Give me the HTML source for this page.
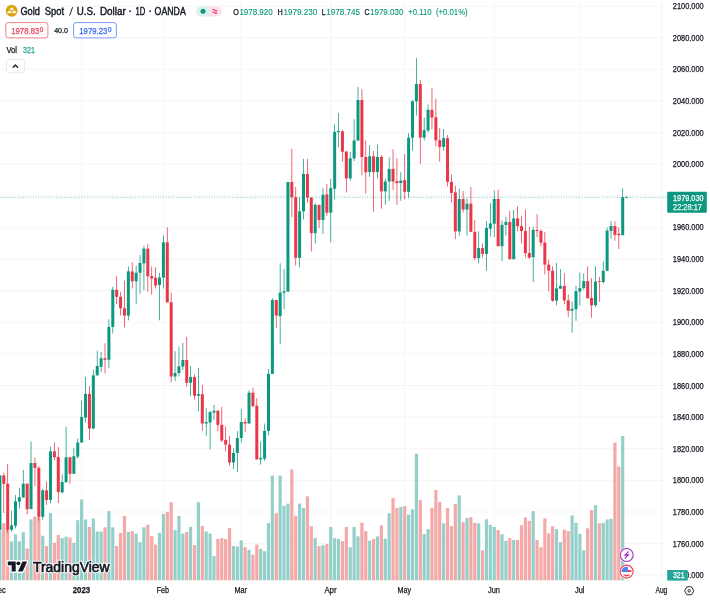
<!DOCTYPE html>
<html><head><meta charset="utf-8"><title>Gold Spot / U.S. Dollar</title>
<style>html,body{margin:0;padding:0;background:#fff;width:710px;height:600px;overflow:hidden;font-family:"Liberation Sans",sans-serif}</style>
</head><body>
<svg width="710" height="600" viewBox="0 0 710 600" style="position:absolute;left:0;top:0;display:block;will-change:transform;transform:translateZ(0)">
<g stroke="#EFEFF1" stroke-width="0.6" shape-rendering="auto">
<line x1="0" y1="6.10" x2="667" y2="6.10"/>
<line x1="0" y1="37.72" x2="667" y2="37.72"/>
<line x1="0" y1="69.34" x2="667" y2="69.34"/>
<line x1="0" y1="100.95" x2="667" y2="100.95"/>
<line x1="0" y1="132.57" x2="667" y2="132.57"/>
<line x1="0" y1="164.19" x2="667" y2="164.19"/>
<line x1="0" y1="195.81" x2="667" y2="195.81"/>
<line x1="0" y1="227.43" x2="667" y2="227.43"/>
<line x1="0" y1="259.04" x2="667" y2="259.04"/>
<line x1="0" y1="290.66" x2="667" y2="290.66"/>
<line x1="0" y1="322.28" x2="667" y2="322.28"/>
<line x1="0" y1="353.90" x2="667" y2="353.90"/>
<line x1="0" y1="385.52" x2="667" y2="385.52"/>
<line x1="0" y1="417.13" x2="667" y2="417.13"/>
<line x1="0" y1="448.75" x2="667" y2="448.75"/>
<line x1="0" y1="480.37" x2="667" y2="480.37"/>
<line x1="0" y1="511.99" x2="667" y2="511.99"/>
<line x1="0" y1="543.61" x2="667" y2="543.61"/>
<line x1="0" y1="575.22" x2="667" y2="575.22"/>
<line x1="81.7" y1="0" x2="81.7" y2="580.6"/>
<line x1="163.4" y1="0" x2="163.4" y2="580.6"/>
<line x1="241.2" y1="0" x2="241.2" y2="580.6"/>
<line x1="330.8" y1="0" x2="330.8" y2="580.6"/>
<line x1="404.7" y1="0" x2="404.7" y2="580.6"/>
<line x1="494.4" y1="0" x2="494.4" y2="580.6"/>
<line x1="579.4" y1="0" x2="579.4" y2="580.6"/>
<line x1="661.8" y1="0" x2="661.8" y2="580.6"/>
</g>
<clipPath id="pane"><rect x="0" y="0" width="662.0" height="580.6"/></clipPath>
<g clip-path="url(#pane)">
<rect x="-1.70" y="531.0" width="3.2" height="49.6" fill="#94D0C9"/>
<rect x="2.19" y="523.1" width="3.2" height="57.5" fill="#F4A8A7"/>
<rect x="6.09" y="527.0" width="3.2" height="53.6" fill="#F4A8A7"/>
<rect x="9.98" y="541.4" width="3.2" height="39.2" fill="#94D0C9"/>
<rect x="13.87" y="534.3" width="3.2" height="46.3" fill="#94D0C9"/>
<rect x="17.76" y="541.4" width="3.2" height="39.2" fill="#94D0C9"/>
<rect x="21.65" y="532.2" width="3.2" height="48.4" fill="#94D0C9"/>
<rect x="25.55" y="548.4" width="3.2" height="32.2" fill="#F4A8A7"/>
<rect x="29.44" y="519.4" width="3.2" height="61.2" fill="#94D0C9"/>
<rect x="33.33" y="516.6" width="3.2" height="64.0" fill="#F4A8A7"/>
<rect x="37.22" y="517.4" width="3.2" height="63.2" fill="#F4A8A7"/>
<rect x="41.12" y="535.7" width="3.2" height="44.9" fill="#94D0C9"/>
<rect x="45.01" y="546.0" width="3.2" height="34.6" fill="#F4A8A7"/>
<rect x="48.90" y="513.1" width="3.2" height="67.5" fill="#94D0C9"/>
<rect x="52.80" y="542.8" width="3.2" height="37.8" fill="#F4A8A7"/>
<rect x="56.69" y="535.0" width="3.2" height="45.6" fill="#F4A8A7"/>
<rect x="60.58" y="538.1" width="3.2" height="42.5" fill="#94D0C9"/>
<rect x="64.47" y="536.7" width="3.2" height="43.9" fill="#94D0C9"/>
<rect x="68.37" y="537.6" width="3.2" height="43.0" fill="#F4A8A7"/>
<rect x="72.26" y="542.8" width="3.2" height="37.8" fill="#94D0C9"/>
<rect x="76.15" y="520.2" width="3.2" height="60.4" fill="#94D0C9"/>
<rect x="80.04" y="499.5" width="3.2" height="81.1" fill="#94D0C9"/>
<rect x="83.94" y="519.5" width="3.2" height="61.1" fill="#94D0C9"/>
<rect x="87.83" y="527.0" width="3.2" height="53.6" fill="#F4A8A7"/>
<rect x="91.72" y="518.5" width="3.2" height="62.1" fill="#94D0C9"/>
<rect x="95.61" y="531.5" width="3.2" height="49.1" fill="#94D0C9"/>
<rect x="99.51" y="531.5" width="3.2" height="49.1" fill="#94D0C9"/>
<rect x="103.40" y="527.3" width="3.2" height="53.3" fill="#F4A8A7"/>
<rect x="107.29" y="511.1" width="3.2" height="69.5" fill="#94D0C9"/>
<rect x="111.18" y="527.3" width="3.2" height="53.3" fill="#94D0C9"/>
<rect x="115.08" y="546.0" width="3.2" height="34.6" fill="#F4A8A7"/>
<rect x="118.97" y="532.9" width="3.2" height="47.7" fill="#F4A8A7"/>
<rect x="122.86" y="516.0" width="3.2" height="64.6" fill="#F4A8A7"/>
<rect x="126.75" y="531.9" width="3.2" height="48.7" fill="#94D0C9"/>
<rect x="130.65" y="531.2" width="3.2" height="49.4" fill="#F4A8A7"/>
<rect x="134.54" y="533.6" width="3.2" height="47.0" fill="#94D0C9"/>
<rect x="138.43" y="542.1" width="3.2" height="38.5" fill="#94D0C9"/>
<rect x="142.32" y="527.3" width="3.2" height="53.3" fill="#94D0C9"/>
<rect x="146.22" y="524.7" width="3.2" height="55.9" fill="#F4A8A7"/>
<rect x="150.11" y="536.2" width="3.2" height="44.4" fill="#F4A8A7"/>
<rect x="154.00" y="544.6" width="3.2" height="36.0" fill="#F4A8A7"/>
<rect x="157.89" y="532.9" width="3.2" height="47.7" fill="#94D0C9"/>
<rect x="161.79" y="513.9" width="3.2" height="66.7" fill="#94D0C9"/>
<rect x="165.68" y="511.8" width="3.2" height="68.8" fill="#F4A8A7"/>
<rect x="169.57" y="502.2" width="3.2" height="78.4" fill="#F4A8A7"/>
<rect x="173.46" y="530.1" width="3.2" height="50.5" fill="#94D0C9"/>
<rect x="177.36" y="516.0" width="3.2" height="64.6" fill="#94D0C9"/>
<rect x="181.25" y="533.6" width="3.2" height="47.0" fill="#94D0C9"/>
<rect x="185.14" y="531.9" width="3.2" height="48.7" fill="#F4A8A7"/>
<rect x="189.03" y="526.9" width="3.2" height="53.7" fill="#94D0C9"/>
<rect x="192.93" y="545.2" width="3.2" height="35.4" fill="#F4A8A7"/>
<rect x="196.82" y="502.2" width="3.2" height="78.4" fill="#94D0C9"/>
<rect x="200.71" y="525.9" width="3.2" height="54.7" fill="#F4A8A7"/>
<rect x="204.60" y="531.5" width="3.2" height="49.1" fill="#94D0C9"/>
<rect x="208.50" y="533.6" width="3.2" height="47.0" fill="#94D0C9"/>
<rect x="212.39" y="556.2" width="3.2" height="24.4" fill="#94D0C9"/>
<rect x="216.28" y="539.0" width="3.2" height="41.6" fill="#F4A8A7"/>
<rect x="220.17" y="538.1" width="3.2" height="42.5" fill="#F4A8A7"/>
<rect x="224.07" y="539.0" width="3.2" height="41.6" fill="#F4A8A7"/>
<rect x="227.96" y="528.0" width="3.2" height="52.6" fill="#F4A8A7"/>
<rect x="231.85" y="546.0" width="3.2" height="34.6" fill="#94D0C9"/>
<rect x="235.74" y="546.6" width="3.2" height="34.0" fill="#94D0C9"/>
<rect x="239.64" y="540.4" width="3.2" height="40.2" fill="#94D0C9"/>
<rect x="243.53" y="547.0" width="3.2" height="33.6" fill="#F4A8A7"/>
<rect x="247.42" y="549.8" width="3.2" height="30.8" fill="#94D0C9"/>
<rect x="251.31" y="554.7" width="3.2" height="25.9" fill="#F4A8A7"/>
<rect x="255.21" y="544.6" width="3.2" height="36.0" fill="#F4A8A7"/>
<rect x="259.10" y="548.8" width="3.2" height="31.8" fill="#94D0C9"/>
<rect x="262.99" y="551.2" width="3.2" height="29.4" fill="#94D0C9"/>
<rect x="266.88" y="523.1" width="3.2" height="57.5" fill="#94D0C9"/>
<rect x="270.77" y="475.6" width="3.2" height="105.0" fill="#94D0C9"/>
<rect x="274.67" y="513.2" width="3.2" height="67.4" fill="#F4A8A7"/>
<rect x="278.56" y="475.6" width="3.2" height="105.0" fill="#94D0C9"/>
<rect x="282.45" y="505.8" width="3.2" height="74.8" fill="#94D0C9"/>
<rect x="286.34" y="503.6" width="3.2" height="77.0" fill="#94D0C9"/>
<rect x="290.24" y="469.3" width="3.2" height="111.3" fill="#F4A8A7"/>
<rect x="294.13" y="516.0" width="3.2" height="64.6" fill="#F4A8A7"/>
<rect x="298.02" y="503.6" width="3.2" height="77.0" fill="#94D0C9"/>
<rect x="301.91" y="508.0" width="3.2" height="72.6" fill="#94D0C9"/>
<rect x="305.81" y="496.3" width="3.2" height="84.3" fill="#F4A8A7"/>
<rect x="309.70" y="526.2" width="3.2" height="54.4" fill="#F4A8A7"/>
<rect x="313.59" y="538.1" width="3.2" height="42.5" fill="#94D0C9"/>
<rect x="317.48" y="546.0" width="3.2" height="34.6" fill="#F4A8A7"/>
<rect x="321.38" y="545.2" width="3.2" height="35.4" fill="#94D0C9"/>
<rect x="325.27" y="543.8" width="3.2" height="36.8" fill="#F4A8A7"/>
<rect x="329.16" y="526.9" width="3.2" height="53.7" fill="#94D0C9"/>
<rect x="333.05" y="538.1" width="3.2" height="42.5" fill="#94D0C9"/>
<rect x="336.95" y="539.0" width="3.2" height="41.6" fill="#94D0C9"/>
<rect x="340.84" y="541.1" width="3.2" height="39.5" fill="#F4A8A7"/>
<rect x="344.73" y="526.9" width="3.2" height="53.7" fill="#F4A8A7"/>
<rect x="348.62" y="547.3" width="3.2" height="33.3" fill="#94D0C9"/>
<rect x="352.52" y="526.9" width="3.2" height="53.7" fill="#94D0C9"/>
<rect x="356.41" y="536.4" width="3.2" height="44.2" fill="#94D0C9"/>
<rect x="360.30" y="522.6" width="3.2" height="58.0" fill="#F4A8A7"/>
<rect x="364.19" y="531.1" width="3.2" height="49.5" fill="#F4A8A7"/>
<rect x="368.09" y="540.7" width="3.2" height="39.9" fill="#94D0C9"/>
<rect x="371.98" y="539.0" width="3.2" height="41.6" fill="#F4A8A7"/>
<rect x="375.87" y="536.4" width="3.2" height="44.2" fill="#94D0C9"/>
<rect x="379.76" y="525.5" width="3.2" height="55.1" fill="#F4A8A7"/>
<rect x="383.66" y="538.5" width="3.2" height="42.1" fill="#94D0C9"/>
<rect x="387.55" y="513.2" width="3.2" height="67.4" fill="#94D0C9"/>
<rect x="391.44" y="498.1" width="3.2" height="82.5" fill="#F4A8A7"/>
<rect x="395.33" y="508.0" width="3.2" height="72.6" fill="#F4A8A7"/>
<rect x="399.23" y="506.9" width="3.2" height="73.7" fill="#94D0C9"/>
<rect x="403.12" y="506.2" width="3.2" height="74.4" fill="#F4A8A7"/>
<rect x="407.01" y="514.6" width="3.2" height="66.0" fill="#94D0C9"/>
<rect x="410.90" y="509.3" width="3.2" height="71.3" fill="#94D0C9"/>
<rect x="414.80" y="453.7" width="3.2" height="126.9" fill="#94D0C9"/>
<rect x="418.69" y="500.2" width="3.2" height="80.4" fill="#F4A8A7"/>
<rect x="422.58" y="533.9" width="3.2" height="46.7" fill="#94D0C9"/>
<rect x="426.47" y="529.1" width="3.2" height="51.5" fill="#94D0C9"/>
<rect x="430.37" y="507.8" width="3.2" height="72.8" fill="#F4A8A7"/>
<rect x="434.26" y="490.0" width="3.2" height="90.6" fill="#F4A8A7"/>
<rect x="438.15" y="501.8" width="3.2" height="78.8" fill="#F4A8A7"/>
<rect x="442.04" y="523.3" width="3.2" height="57.3" fill="#94D0C9"/>
<rect x="445.94" y="508.0" width="3.2" height="72.6" fill="#F4A8A7"/>
<rect x="449.83" y="526.2" width="3.2" height="54.4" fill="#F4A8A7"/>
<rect x="453.72" y="503.8" width="3.2" height="76.8" fill="#F4A8A7"/>
<rect x="457.61" y="495.4" width="3.2" height="85.2" fill="#94D0C9"/>
<rect x="461.51" y="522.1" width="3.2" height="58.5" fill="#F4A8A7"/>
<rect x="465.40" y="518.1" width="3.2" height="62.5" fill="#94D0C9"/>
<rect x="469.29" y="517.1" width="3.2" height="63.5" fill="#F4A8A7"/>
<rect x="473.18" y="522.8" width="3.2" height="57.8" fill="#F4A8A7"/>
<rect x="477.08" y="523.3" width="3.2" height="57.3" fill="#94D0C9"/>
<rect x="480.97" y="550.2" width="3.2" height="30.4" fill="#F4A8A7"/>
<rect x="484.86" y="519.3" width="3.2" height="61.3" fill="#94D0C9"/>
<rect x="488.75" y="524.9" width="3.2" height="55.7" fill="#94D0C9"/>
<rect x="492.65" y="527.0" width="3.2" height="53.6" fill="#94D0C9"/>
<rect x="496.54" y="530.1" width="3.2" height="50.5" fill="#F4A8A7"/>
<rect x="500.43" y="534.3" width="3.2" height="46.3" fill="#94D0C9"/>
<rect x="504.32" y="540.7" width="3.2" height="39.9" fill="#94D0C9"/>
<rect x="508.22" y="538.1" width="3.2" height="42.5" fill="#F4A8A7"/>
<rect x="512.11" y="540.0" width="3.2" height="40.6" fill="#94D0C9"/>
<rect x="516.00" y="540.0" width="3.2" height="40.6" fill="#F4A8A7"/>
<rect x="519.89" y="525.2" width="3.2" height="55.4" fill="#F4A8A7"/>
<rect x="523.79" y="517.4" width="3.2" height="63.2" fill="#F4A8A7"/>
<rect x="527.68" y="520.9" width="3.2" height="59.7" fill="#F4A8A7"/>
<rect x="531.57" y="511.1" width="3.2" height="69.5" fill="#94D0C9"/>
<rect x="535.46" y="540.0" width="3.2" height="40.6" fill="#F4A8A7"/>
<rect x="539.36" y="547.3" width="3.2" height="33.3" fill="#F4A8A7"/>
<rect x="543.25" y="518.4" width="3.2" height="62.2" fill="#F4A8A7"/>
<rect x="547.14" y="533.2" width="3.2" height="47.4" fill="#F4A8A7"/>
<rect x="551.03" y="526.2" width="3.2" height="54.4" fill="#F4A8A7"/>
<rect x="554.93" y="529.1" width="3.2" height="51.5" fill="#94D0C9"/>
<rect x="558.82" y="542.1" width="3.2" height="38.5" fill="#94D0C9"/>
<rect x="562.71" y="529.7" width="3.2" height="50.9" fill="#F4A8A7"/>
<rect x="566.61" y="531.1" width="3.2" height="49.5" fill="#F4A8A7"/>
<rect x="570.50" y="515.3" width="3.2" height="65.3" fill="#94D0C9"/>
<rect x="574.39" y="522.8" width="3.2" height="57.8" fill="#94D0C9"/>
<rect x="578.28" y="533.9" width="3.2" height="46.7" fill="#94D0C9"/>
<rect x="582.17" y="550.2" width="3.2" height="30.4" fill="#94D0C9"/>
<rect x="586.07" y="528.3" width="3.2" height="52.3" fill="#F4A8A7"/>
<rect x="589.96" y="510.0" width="3.2" height="70.6" fill="#F4A8A7"/>
<rect x="593.85" y="505.2" width="3.2" height="75.4" fill="#94D0C9"/>
<rect x="597.75" y="523.3" width="3.2" height="57.3" fill="#F4A8A7"/>
<rect x="601.64" y="522.8" width="3.2" height="57.8" fill="#94D0C9"/>
<rect x="605.53" y="519.5" width="3.2" height="61.1" fill="#94D0C9"/>
<rect x="609.42" y="518.8" width="3.2" height="61.8" fill="#94D0C9"/>
<rect x="613.31" y="442.5" width="3.2" height="138.1" fill="#F4A8A7"/>
<rect x="617.21" y="466.5" width="3.2" height="114.1" fill="#F4A8A7"/>
<rect x="621.10" y="435.9" width="3.2" height="144.7" fill="#94D0C9"/>
<rect x="624.99" y="579.9" width="3.2" height="0.7" fill="#94D0C9"/>
<rect x="-0.47" y="475.4" width="0.75" height="54.8" fill="#0C977F"/>
<rect x="-1.60" y="475.4" width="3.0" height="54.8" fill="#0C977F"/>
<rect x="3.42" y="472.7" width="0.75" height="40.3" fill="#EA3649"/>
<rect x="2.29" y="475.4" width="3.0" height="8.4" fill="#EA3649"/>
<rect x="7.31" y="464.0" width="0.75" height="68.6" fill="#EA3649"/>
<rect x="6.19" y="483.7" width="3.0" height="45.8" fill="#EA3649"/>
<rect x="11.20" y="510.5" width="0.75" height="21.2" fill="#0C977F"/>
<rect x="10.08" y="525.3" width="3.0" height="4.5" fill="#0C977F"/>
<rect x="15.10" y="494.9" width="0.75" height="33.6" fill="#0C977F"/>
<rect x="13.97" y="501.4" width="3.0" height="24.4" fill="#0C977F"/>
<rect x="18.99" y="488.0" width="0.75" height="20.7" fill="#0C977F"/>
<rect x="17.86" y="497.2" width="3.0" height="4.4" fill="#0C977F"/>
<rect x="22.88" y="470.0" width="0.75" height="27.5" fill="#0C977F"/>
<rect x="21.75" y="483.7" width="3.0" height="13.8" fill="#0C977F"/>
<rect x="26.77" y="483.7" width="0.75" height="30.8" fill="#EA3649"/>
<rect x="25.65" y="483.7" width="3.0" height="25.6" fill="#EA3649"/>
<rect x="30.66" y="441.4" width="0.75" height="67.7" fill="#0C977F"/>
<rect x="29.54" y="463.0" width="3.0" height="46.1" fill="#0C977F"/>
<rect x="34.56" y="457.5" width="0.75" height="28.7" fill="#EA3649"/>
<rect x="33.43" y="463.0" width="3.0" height="4.9" fill="#EA3649"/>
<rect x="38.45" y="466.0" width="0.75" height="54.7" fill="#EA3649"/>
<rect x="37.32" y="467.9" width="3.0" height="48.9" fill="#EA3649"/>
<rect x="42.34" y="489.0" width="0.75" height="30.8" fill="#0C977F"/>
<rect x="41.22" y="490.3" width="3.0" height="26.5" fill="#0C977F"/>
<rect x="46.23" y="481.4" width="0.75" height="23.5" fill="#EA3649"/>
<rect x="45.11" y="490.3" width="3.0" height="9.6" fill="#EA3649"/>
<rect x="50.13" y="446.5" width="0.75" height="56.9" fill="#0C977F"/>
<rect x="49.00" y="451.3" width="3.0" height="48.6" fill="#0C977F"/>
<rect x="54.02" y="442.3" width="0.75" height="18.0" fill="#EA3649"/>
<rect x="52.90" y="451.3" width="3.0" height="5.9" fill="#EA3649"/>
<rect x="57.91" y="447.1" width="0.75" height="55.9" fill="#EA3649"/>
<rect x="56.79" y="457.0" width="3.0" height="35.1" fill="#EA3649"/>
<rect x="61.80" y="474.5" width="0.75" height="19.0" fill="#0C977F"/>
<rect x="60.68" y="482.0" width="3.0" height="10.4" fill="#0C977F"/>
<rect x="65.70" y="426.8" width="0.75" height="55.5" fill="#0C977F"/>
<rect x="64.57" y="457.3" width="3.0" height="25.0" fill="#0C977F"/>
<rect x="69.59" y="457.3" width="0.75" height="26.4" fill="#EA3649"/>
<rect x="68.47" y="457.3" width="3.0" height="16.5" fill="#EA3649"/>
<rect x="73.48" y="448.0" width="0.75" height="25.8" fill="#0C977F"/>
<rect x="72.36" y="456.2" width="3.0" height="17.6" fill="#0C977F"/>
<rect x="77.38" y="438.6" width="0.75" height="20.1" fill="#0C977F"/>
<rect x="76.25" y="442.5" width="3.0" height="14.1" fill="#0C977F"/>
<rect x="81.27" y="400.7" width="0.75" height="41.8" fill="#0C977F"/>
<rect x="80.14" y="416.9" width="3.0" height="25.6" fill="#0C977F"/>
<rect x="85.16" y="376.8" width="0.75" height="45.6" fill="#0C977F"/>
<rect x="84.04" y="393.9" width="3.0" height="23.7" fill="#0C977F"/>
<rect x="89.05" y="386.2" width="0.75" height="53.8" fill="#EA3649"/>
<rect x="87.93" y="393.9" width="3.0" height="34.6" fill="#EA3649"/>
<rect x="92.95" y="369.6" width="0.75" height="59.8" fill="#0C977F"/>
<rect x="91.82" y="375.4" width="3.0" height="53.1" fill="#0C977F"/>
<rect x="96.84" y="350.6" width="0.75" height="24.8" fill="#0C977F"/>
<rect x="95.71" y="366.0" width="3.0" height="9.4" fill="#0C977F"/>
<rect x="100.73" y="352.0" width="0.75" height="20.4" fill="#0C977F"/>
<rect x="99.61" y="358.3" width="3.0" height="8.5" fill="#0C977F"/>
<rect x="104.62" y="343.2" width="0.75" height="30.3" fill="#EA3649"/>
<rect x="103.50" y="358.3" width="3.0" height="1.4" fill="#EA3649"/>
<rect x="108.52" y="319.3" width="0.75" height="48.9" fill="#0C977F"/>
<rect x="107.39" y="326.9" width="3.0" height="32.8" fill="#0C977F"/>
<rect x="112.41" y="286.9" width="0.75" height="46.5" fill="#0C977F"/>
<rect x="111.28" y="289.7" width="3.0" height="37.2" fill="#0C977F"/>
<rect x="116.30" y="276.1" width="0.75" height="27.9" fill="#EA3649"/>
<rect x="115.18" y="289.7" width="3.0" height="7.1" fill="#EA3649"/>
<rect x="120.19" y="291.8" width="0.75" height="23.6" fill="#EA3649"/>
<rect x="119.07" y="296.8" width="3.0" height="11.5" fill="#EA3649"/>
<rect x="124.09" y="280.6" width="0.75" height="46.7" fill="#EA3649"/>
<rect x="122.96" y="308.3" width="3.0" height="7.3" fill="#EA3649"/>
<rect x="127.98" y="266.5" width="0.75" height="53.8" fill="#0C977F"/>
<rect x="126.85" y="271.4" width="3.0" height="44.2" fill="#0C977F"/>
<rect x="131.87" y="262.3" width="0.75" height="26.4" fill="#EA3649"/>
<rect x="130.75" y="271.4" width="3.0" height="9.9" fill="#EA3649"/>
<rect x="135.76" y="265.8" width="0.75" height="38.0" fill="#0C977F"/>
<rect x="134.64" y="272.8" width="3.0" height="8.5" fill="#0C977F"/>
<rect x="139.66" y="254.9" width="0.75" height="39.0" fill="#0C977F"/>
<rect x="138.53" y="263.0" width="3.0" height="9.8" fill="#0C977F"/>
<rect x="143.55" y="245.8" width="0.75" height="44.6" fill="#0C977F"/>
<rect x="142.42" y="248.6" width="3.0" height="14.8" fill="#0C977F"/>
<rect x="147.44" y="243.9" width="0.75" height="47.9" fill="#EA3649"/>
<rect x="146.31" y="248.6" width="3.0" height="27.7" fill="#EA3649"/>
<rect x="151.33" y="266.5" width="0.75" height="28.1" fill="#EA3649"/>
<rect x="150.21" y="276.0" width="3.0" height="2.5" fill="#EA3649"/>
<rect x="155.22" y="267.2" width="0.75" height="21.5" fill="#EA3649"/>
<rect x="154.10" y="277.7" width="3.0" height="7.8" fill="#EA3649"/>
<rect x="159.12" y="272.8" width="0.75" height="47.5" fill="#0C977F"/>
<rect x="157.99" y="277.5" width="3.0" height="7.5" fill="#0C977F"/>
<rect x="163.01" y="235.5" width="0.75" height="53.2" fill="#0C977F"/>
<rect x="161.89" y="242.3" width="3.0" height="35.4" fill="#0C977F"/>
<rect x="166.90" y="227.3" width="0.75" height="75.1" fill="#EA3649"/>
<rect x="165.78" y="242.3" width="3.0" height="60.1" fill="#EA3649"/>
<rect x="170.80" y="292.6" width="0.75" height="89.8" fill="#EA3649"/>
<rect x="169.67" y="302.2" width="3.0" height="74.3" fill="#EA3649"/>
<rect x="174.69" y="351.2" width="0.75" height="29.8" fill="#0C977F"/>
<rect x="173.56" y="373.0" width="3.0" height="3.5" fill="#0C977F"/>
<rect x="178.58" y="346.5" width="0.75" height="30.0" fill="#0C977F"/>
<rect x="177.46" y="366.3" width="3.0" height="6.7" fill="#0C977F"/>
<rect x="182.47" y="343.0" width="0.75" height="27.1" fill="#0C977F"/>
<rect x="181.35" y="360.0" width="3.0" height="6.6" fill="#0C977F"/>
<rect x="186.37" y="336.8" width="0.75" height="50.0" fill="#EA3649"/>
<rect x="185.24" y="360.0" width="3.0" height="22.8" fill="#EA3649"/>
<rect x="190.26" y="365.9" width="0.75" height="30.3" fill="#0C977F"/>
<rect x="189.13" y="376.9" width="3.0" height="5.9" fill="#0C977F"/>
<rect x="194.15" y="374.4" width="0.75" height="25.2" fill="#EA3649"/>
<rect x="193.03" y="376.9" width="3.0" height="19.0" fill="#EA3649"/>
<rect x="198.04" y="367.7" width="0.75" height="43.4" fill="#0C977F"/>
<rect x="196.92" y="394.1" width="3.0" height="1.7" fill="#0C977F"/>
<rect x="201.94" y="384.9" width="0.75" height="46.0" fill="#EA3649"/>
<rect x="200.81" y="394.1" width="3.0" height="29.4" fill="#EA3649"/>
<rect x="205.83" y="408.3" width="0.75" height="27.4" fill="#0C977F"/>
<rect x="204.70" y="422.0" width="3.0" height="1.5" fill="#0C977F"/>
<rect x="209.72" y="410.8" width="0.75" height="38.7" fill="#0C977F"/>
<rect x="208.59" y="412.2" width="3.0" height="10.3" fill="#0C977F"/>
<rect x="213.61" y="404.9" width="0.75" height="15.0" fill="#0C977F"/>
<rect x="212.49" y="410.8" width="3.0" height="1.8" fill="#0C977F"/>
<rect x="217.51" y="410.0" width="0.75" height="21.2" fill="#EA3649"/>
<rect x="216.38" y="410.8" width="3.0" height="14.1" fill="#EA3649"/>
<rect x="221.40" y="406.9" width="0.75" height="35.3" fill="#EA3649"/>
<rect x="220.27" y="424.9" width="3.0" height="15.5" fill="#EA3649"/>
<rect x="225.29" y="426.3" width="0.75" height="24.9" fill="#EA3649"/>
<rect x="224.17" y="439.9" width="3.0" height="4.7" fill="#EA3649"/>
<rect x="229.18" y="436.1" width="0.75" height="29.6" fill="#EA3649"/>
<rect x="228.06" y="444.6" width="3.0" height="17.9" fill="#EA3649"/>
<rect x="233.08" y="448.4" width="0.75" height="20.6" fill="#0C977F"/>
<rect x="231.95" y="453.0" width="3.0" height="9.5" fill="#0C977F"/>
<rect x="236.97" y="431.2" width="0.75" height="40.9" fill="#0C977F"/>
<rect x="235.84" y="438.0" width="3.0" height="15.0" fill="#0C977F"/>
<rect x="240.86" y="409.2" width="0.75" height="33.3" fill="#0C977F"/>
<rect x="239.74" y="422.0" width="3.0" height="16.0" fill="#0C977F"/>
<rect x="244.75" y="418.5" width="0.75" height="13.4" fill="#EA3649"/>
<rect x="243.63" y="422.0" width="3.0" height="1.5" fill="#EA3649"/>
<rect x="248.65" y="390.3" width="0.75" height="33.2" fill="#0C977F"/>
<rect x="247.52" y="392.7" width="3.0" height="30.8" fill="#0C977F"/>
<rect x="252.54" y="387.7" width="0.75" height="19.7" fill="#EA3649"/>
<rect x="251.41" y="392.7" width="3.0" height="13.3" fill="#EA3649"/>
<rect x="256.43" y="398.2" width="0.75" height="61.2" fill="#EA3649"/>
<rect x="255.31" y="405.7" width="3.0" height="53.7" fill="#EA3649"/>
<rect x="260.32" y="441.4" width="0.75" height="23.2" fill="#0C977F"/>
<rect x="259.20" y="458.0" width="3.0" height="1.4" fill="#0C977F"/>
<rect x="264.21" y="423.5" width="0.75" height="37.3" fill="#0C977F"/>
<rect x="263.09" y="430.9" width="3.0" height="27.8" fill="#0C977F"/>
<rect x="268.11" y="369.0" width="0.75" height="66.2" fill="#0C977F"/>
<rect x="266.98" y="373.9" width="3.0" height="57.0" fill="#0C977F"/>
<rect x="272.00" y="298.4" width="0.75" height="75.5" fill="#0C977F"/>
<rect x="270.88" y="300.1" width="3.0" height="73.8" fill="#0C977F"/>
<rect x="275.89" y="300.1" width="0.75" height="28.1" fill="#EA3649"/>
<rect x="274.77" y="300.1" width="3.0" height="15.4" fill="#EA3649"/>
<rect x="279.78" y="263.2" width="0.75" height="80.9" fill="#0C977F"/>
<rect x="278.66" y="292.6" width="3.0" height="23.6" fill="#0C977F"/>
<rect x="283.68" y="269.1" width="0.75" height="40.1" fill="#0C977F"/>
<rect x="282.55" y="291.3" width="3.0" height="1.4" fill="#0C977F"/>
<rect x="287.57" y="182.0" width="0.75" height="109.6" fill="#0C977F"/>
<rect x="286.44" y="182.0" width="3.0" height="109.6" fill="#0C977F"/>
<rect x="291.46" y="148.9" width="0.75" height="68.3" fill="#EA3649"/>
<rect x="290.34" y="182.0" width="3.0" height="15.2" fill="#EA3649"/>
<rect x="295.35" y="187.0" width="0.75" height="78.5" fill="#EA3649"/>
<rect x="294.23" y="197.2" width="3.0" height="60.6" fill="#EA3649"/>
<rect x="299.25" y="197.2" width="0.75" height="70.2" fill="#0C977F"/>
<rect x="298.12" y="211.3" width="3.0" height="46.5" fill="#0C977F"/>
<rect x="303.14" y="158.8" width="0.75" height="60.6" fill="#0C977F"/>
<rect x="302.01" y="174.0" width="3.0" height="37.3" fill="#0C977F"/>
<rect x="307.03" y="158.8" width="0.75" height="43.7" fill="#EA3649"/>
<rect x="305.91" y="174.0" width="3.0" height="23.5" fill="#EA3649"/>
<rect x="310.92" y="197.5" width="0.75" height="54.0" fill="#EA3649"/>
<rect x="309.80" y="197.5" width="3.0" height="35.7" fill="#EA3649"/>
<rect x="314.82" y="203.2" width="0.75" height="40.2" fill="#0C977F"/>
<rect x="313.69" y="204.8" width="3.0" height="28.4" fill="#0C977F"/>
<rect x="318.71" y="204.8" width="0.75" height="23.4" fill="#EA3649"/>
<rect x="317.58" y="204.8" width="3.0" height="15.3" fill="#EA3649"/>
<rect x="322.60" y="188.4" width="0.75" height="45.5" fill="#0C977F"/>
<rect x="321.48" y="194.7" width="3.0" height="25.4" fill="#0C977F"/>
<rect x="326.50" y="183.9" width="0.75" height="31.9" fill="#EA3649"/>
<rect x="325.37" y="194.4" width="3.0" height="18.3" fill="#EA3649"/>
<rect x="330.39" y="178.9" width="0.75" height="63.4" fill="#0C977F"/>
<rect x="329.26" y="188.2" width="3.0" height="24.4" fill="#0C977F"/>
<rect x="334.28" y="124.4" width="0.75" height="74.9" fill="#0C977F"/>
<rect x="333.15" y="131.8" width="3.0" height="56.9" fill="#0C977F"/>
<rect x="338.17" y="113.1" width="0.75" height="34.2" fill="#0C977F"/>
<rect x="337.05" y="131.0" width="3.0" height="1.1" fill="#0C977F"/>
<rect x="342.06" y="130.0" width="0.75" height="31.7" fill="#EA3649"/>
<rect x="340.94" y="131.4" width="3.0" height="20.3" fill="#EA3649"/>
<rect x="345.96" y="151.5" width="0.75" height="41.0" fill="#EA3649"/>
<rect x="344.83" y="151.5" width="3.0" height="26.9" fill="#EA3649"/>
<rect x="349.85" y="151.9" width="0.75" height="28.9" fill="#0C977F"/>
<rect x="348.72" y="158.3" width="3.0" height="20.1" fill="#0C977F"/>
<rect x="353.74" y="119.2" width="0.75" height="41.9" fill="#0C977F"/>
<rect x="352.62" y="140.5" width="3.0" height="17.9" fill="#0C977F"/>
<rect x="357.63" y="87.0" width="0.75" height="53.6" fill="#0C977F"/>
<rect x="356.51" y="100.0" width="3.0" height="40.6" fill="#0C977F"/>
<rect x="361.53" y="89.2" width="0.75" height="86.0" fill="#EA3649"/>
<rect x="360.40" y="100.0" width="3.0" height="57.0" fill="#EA3649"/>
<rect x="365.42" y="140.6" width="0.75" height="52.9" fill="#EA3649"/>
<rect x="364.29" y="156.9" width="3.0" height="15.5" fill="#EA3649"/>
<rect x="369.31" y="145.2" width="0.75" height="31.7" fill="#0C977F"/>
<rect x="368.19" y="156.3" width="3.0" height="15.8" fill="#0C977F"/>
<rect x="373.20" y="151.0" width="0.75" height="60.8" fill="#EA3649"/>
<rect x="372.08" y="156.3" width="3.0" height="15.8" fill="#EA3649"/>
<rect x="377.10" y="144.5" width="0.75" height="33.8" fill="#0C977F"/>
<rect x="375.97" y="156.9" width="3.0" height="15.2" fill="#0C977F"/>
<rect x="380.99" y="155.0" width="0.75" height="53.7" fill="#EA3649"/>
<rect x="379.87" y="156.9" width="3.0" height="34.5" fill="#EA3649"/>
<rect x="384.88" y="178.3" width="0.75" height="26.5" fill="#0C977F"/>
<rect x="383.76" y="181.5" width="3.0" height="9.9" fill="#0C977F"/>
<rect x="388.77" y="157.4" width="0.75" height="43.4" fill="#0C977F"/>
<rect x="387.65" y="168.9" width="3.0" height="12.6" fill="#0C977F"/>
<rect x="392.67" y="149.2" width="0.75" height="40.8" fill="#EA3649"/>
<rect x="391.54" y="168.9" width="3.0" height="12.6" fill="#EA3649"/>
<rect x="396.56" y="158.2" width="0.75" height="46.6" fill="#EA3649"/>
<rect x="395.44" y="181.1" width="3.0" height="1.9" fill="#EA3649"/>
<rect x="400.45" y="172.1" width="0.75" height="28.7" fill="#0C977F"/>
<rect x="399.33" y="180.6" width="3.0" height="2.4" fill="#0C977F"/>
<rect x="404.34" y="154.0" width="0.75" height="45.2" fill="#EA3649"/>
<rect x="403.22" y="180.1" width="3.0" height="11.7" fill="#EA3649"/>
<rect x="408.24" y="133.2" width="0.75" height="64.5" fill="#0C977F"/>
<rect x="407.11" y="137.7" width="3.0" height="54.1" fill="#0C977F"/>
<rect x="412.13" y="100.0" width="0.75" height="50.7" fill="#0C977F"/>
<rect x="411.00" y="101.3" width="3.0" height="36.4" fill="#0C977F"/>
<rect x="416.02" y="58.2" width="0.75" height="57.2" fill="#0C977F"/>
<rect x="414.90" y="84.0" width="3.0" height="17.4" fill="#0C977F"/>
<rect x="419.91" y="79.9" width="0.75" height="83.9" fill="#EA3649"/>
<rect x="418.79" y="84.0" width="3.0" height="53.6" fill="#EA3649"/>
<rect x="423.81" y="117.8" width="0.75" height="22.6" fill="#0C977F"/>
<rect x="422.68" y="130.2" width="3.0" height="7.4" fill="#0C977F"/>
<rect x="427.70" y="104.3" width="0.75" height="28.1" fill="#0C977F"/>
<rect x="426.57" y="109.7" width="3.0" height="20.8" fill="#0C977F"/>
<rect x="431.59" y="87.7" width="0.75" height="41.7" fill="#EA3649"/>
<rect x="430.47" y="109.9" width="3.0" height="7.6" fill="#EA3649"/>
<rect x="435.49" y="98.6" width="0.75" height="47.7" fill="#EA3649"/>
<rect x="434.36" y="117.3" width="3.0" height="23.0" fill="#EA3649"/>
<rect x="439.38" y="128.1" width="0.75" height="33.7" fill="#EA3649"/>
<rect x="438.25" y="140.3" width="3.0" height="6.6" fill="#EA3649"/>
<rect x="443.27" y="129.0" width="0.75" height="21.8" fill="#0C977F"/>
<rect x="442.14" y="138.2" width="3.0" height="8.7" fill="#0C977F"/>
<rect x="447.16" y="135.0" width="0.75" height="51.5" fill="#EA3649"/>
<rect x="446.04" y="138.2" width="3.0" height="43.6" fill="#EA3649"/>
<rect x="451.06" y="174.5" width="0.75" height="28.0" fill="#EA3649"/>
<rect x="449.93" y="181.8" width="3.0" height="11.1" fill="#EA3649"/>
<rect x="454.95" y="185.7" width="0.75" height="53.5" fill="#EA3649"/>
<rect x="453.82" y="192.3" width="3.0" height="39.1" fill="#EA3649"/>
<rect x="458.84" y="188.4" width="0.75" height="47.2" fill="#0C977F"/>
<rect x="457.71" y="199.0" width="3.0" height="32.4" fill="#0C977F"/>
<rect x="462.73" y="191.0" width="0.75" height="21.7" fill="#EA3649"/>
<rect x="461.61" y="199.0" width="3.0" height="10.6" fill="#EA3649"/>
<rect x="466.62" y="198.3" width="0.75" height="37.3" fill="#0C977F"/>
<rect x="465.50" y="203.7" width="3.0" height="5.9" fill="#0C977F"/>
<rect x="470.52" y="187.0" width="0.75" height="44.8" fill="#EA3649"/>
<rect x="469.39" y="203.7" width="3.0" height="28.1" fill="#EA3649"/>
<rect x="474.41" y="220.1" width="0.75" height="39.9" fill="#EA3649"/>
<rect x="473.28" y="231.8" width="3.0" height="26.3" fill="#EA3649"/>
<rect x="478.30" y="231.4" width="0.75" height="31.8" fill="#0C977F"/>
<rect x="477.18" y="248.1" width="3.0" height="10.0" fill="#0C977F"/>
<rect x="482.19" y="243.5" width="0.75" height="14.1" fill="#EA3649"/>
<rect x="481.07" y="248.1" width="3.0" height="5.8" fill="#EA3649"/>
<rect x="486.09" y="221.1" width="0.75" height="49.6" fill="#0C977F"/>
<rect x="484.96" y="227.9" width="3.0" height="26.0" fill="#0C977F"/>
<rect x="489.98" y="203.2" width="0.75" height="33.1" fill="#0C977F"/>
<rect x="488.85" y="223.4" width="3.0" height="5.2" fill="#0C977F"/>
<rect x="493.87" y="190.5" width="0.75" height="46.5" fill="#0C977F"/>
<rect x="492.75" y="199.0" width="3.0" height="24.7" fill="#0C977F"/>
<rect x="497.76" y="189.6" width="0.75" height="56.7" fill="#EA3649"/>
<rect x="496.64" y="199.0" width="3.0" height="47.3" fill="#EA3649"/>
<rect x="501.66" y="220.6" width="0.75" height="40.7" fill="#0C977F"/>
<rect x="500.53" y="224.8" width="3.0" height="21.4" fill="#0C977F"/>
<rect x="505.55" y="217.0" width="0.75" height="18.4" fill="#0C977F"/>
<rect x="504.43" y="221.9" width="3.0" height="3.1" fill="#0C977F"/>
<rect x="509.44" y="210.9" width="0.75" height="48.4" fill="#EA3649"/>
<rect x="508.32" y="221.9" width="3.0" height="37.4" fill="#EA3649"/>
<rect x="513.34" y="210.0" width="0.75" height="49.3" fill="#0C977F"/>
<rect x="512.21" y="218.4" width="3.0" height="40.9" fill="#0C977F"/>
<rect x="517.23" y="206.0" width="0.75" height="25.4" fill="#EA3649"/>
<rect x="516.10" y="218.4" width="3.0" height="7.8" fill="#EA3649"/>
<rect x="521.12" y="215.8" width="0.75" height="27.7" fill="#EA3649"/>
<rect x="520.00" y="226.1" width="3.0" height="4.9" fill="#EA3649"/>
<rect x="525.01" y="209.3" width="0.75" height="48.3" fill="#EA3649"/>
<rect x="523.89" y="231.0" width="3.0" height="22.1" fill="#EA3649"/>
<rect x="528.90" y="226.8" width="0.75" height="32.1" fill="#EA3649"/>
<rect x="527.78" y="253.0" width="3.0" height="4.6" fill="#EA3649"/>
<rect x="532.80" y="227.1" width="0.75" height="54.9" fill="#0C977F"/>
<rect x="531.67" y="229.9" width="3.0" height="27.3" fill="#0C977F"/>
<rect x="536.69" y="214.2" width="0.75" height="22.8" fill="#EA3649"/>
<rect x="535.56" y="229.9" width="3.0" height="1.2" fill="#EA3649"/>
<rect x="540.58" y="229.1" width="0.75" height="17.2" fill="#EA3649"/>
<rect x="539.46" y="231.0" width="3.0" height="11.7" fill="#EA3649"/>
<rect x="544.48" y="231.9" width="0.75" height="42.4" fill="#EA3649"/>
<rect x="543.35" y="242.5" width="3.0" height="22.1" fill="#EA3649"/>
<rect x="548.37" y="259.6" width="0.75" height="31.7" fill="#EA3649"/>
<rect x="547.24" y="264.6" width="3.0" height="6.1" fill="#EA3649"/>
<rect x="552.26" y="266.3" width="0.75" height="35.6" fill="#EA3649"/>
<rect x="551.13" y="270.7" width="3.0" height="30.0" fill="#EA3649"/>
<rect x="556.15" y="263.0" width="0.75" height="42.4" fill="#0C977F"/>
<rect x="555.03" y="288.4" width="3.0" height="12.3" fill="#0C977F"/>
<rect x="560.04" y="269.2" width="0.75" height="19.5" fill="#0C977F"/>
<rect x="558.92" y="285.9" width="3.0" height="2.8" fill="#0C977F"/>
<rect x="563.94" y="273.2" width="0.75" height="31.0" fill="#EA3649"/>
<rect x="562.81" y="285.9" width="3.0" height="14.5" fill="#EA3649"/>
<rect x="567.83" y="294.3" width="0.75" height="22.6" fill="#EA3649"/>
<rect x="566.71" y="300.4" width="3.0" height="10.3" fill="#EA3649"/>
<rect x="571.72" y="301.8" width="0.75" height="31.0" fill="#0C977F"/>
<rect x="570.60" y="308.8" width="3.0" height="1.9" fill="#0C977F"/>
<rect x="575.62" y="285.6" width="0.75" height="35.2" fill="#0C977F"/>
<rect x="574.49" y="291.2" width="3.0" height="18.0" fill="#0C977F"/>
<rect x="579.51" y="272.5" width="0.75" height="33.1" fill="#0C977F"/>
<rect x="578.38" y="288.1" width="3.0" height="3.4" fill="#0C977F"/>
<rect x="583.40" y="273.2" width="0.75" height="16.6" fill="#0C977F"/>
<rect x="582.27" y="281.1" width="3.0" height="7.0" fill="#0C977F"/>
<rect x="587.29" y="266.5" width="0.75" height="31.8" fill="#EA3649"/>
<rect x="586.17" y="281.1" width="3.0" height="17.2" fill="#EA3649"/>
<rect x="591.18" y="278.0" width="0.75" height="39.7" fill="#EA3649"/>
<rect x="590.06" y="298.0" width="3.0" height="7.3" fill="#EA3649"/>
<rect x="595.08" y="266.5" width="0.75" height="40.2" fill="#0C977F"/>
<rect x="593.95" y="281.6" width="3.0" height="23.7" fill="#0C977F"/>
<rect x="598.97" y="277.0" width="0.75" height="24.8" fill="#EA3649"/>
<rect x="597.85" y="281.1" width="3.0" height="0.9" fill="#EA3649"/>
<rect x="602.86" y="261.4" width="0.75" height="22.1" fill="#0C977F"/>
<rect x="601.74" y="270.8" width="3.0" height="11.2" fill="#0C977F"/>
<rect x="606.75" y="227.4" width="0.75" height="43.4" fill="#0C977F"/>
<rect x="605.63" y="230.6" width="3.0" height="40.2" fill="#0C977F"/>
<rect x="610.65" y="221.1" width="0.75" height="17.6" fill="#0C977F"/>
<rect x="609.52" y="226.0" width="3.0" height="4.9" fill="#0C977F"/>
<rect x="614.54" y="221.1" width="0.75" height="19.7" fill="#EA3649"/>
<rect x="613.41" y="226.0" width="3.0" height="8.9" fill="#EA3649"/>
<rect x="618.43" y="227.0" width="0.75" height="22.0" fill="#EA3649"/>
<rect x="617.31" y="233.7" width="3.0" height="1.5" fill="#EA3649"/>
<rect x="622.32" y="188.4" width="0.75" height="46.8" fill="#0C977F"/>
<rect x="621.20" y="197.1" width="3.0" height="38.1" fill="#0C977F"/>
<rect x="626.22" y="196.7" width="0.75" height="1.0" fill="#0C977F"/>
<rect x="625.09" y="196.9" width="3.0" height="0.8" fill="#0C977F"/>
</g>
<line x1="0" y1="197.34" x2="667" y2="197.34" stroke="#0C977F" stroke-width="0.75" stroke-dasharray="0.8 1.75" stroke-opacity="0.85"/>
<text x="672.8" y="9.10" font-family="Liberation Sans, sans-serif" font-size="8.5" fill="#131722" text-anchor="start" font-weight="normal" textLength="30.9" lengthAdjust="spacingAndGlyphs" stroke="#131722" stroke-width="0.25">2100.000</text>
<text x="672.8" y="40.72" font-family="Liberation Sans, sans-serif" font-size="8.5" fill="#131722" text-anchor="start" font-weight="normal" textLength="30.9" lengthAdjust="spacingAndGlyphs" stroke="#131722" stroke-width="0.25">2080.000</text>
<text x="672.8" y="72.34" font-family="Liberation Sans, sans-serif" font-size="8.5" fill="#131722" text-anchor="start" font-weight="normal" textLength="30.9" lengthAdjust="spacingAndGlyphs" stroke="#131722" stroke-width="0.25">2060.000</text>
<text x="672.8" y="103.95" font-family="Liberation Sans, sans-serif" font-size="8.5" fill="#131722" text-anchor="start" font-weight="normal" textLength="30.9" lengthAdjust="spacingAndGlyphs" stroke="#131722" stroke-width="0.25">2040.000</text>
<text x="672.8" y="135.57" font-family="Liberation Sans, sans-serif" font-size="8.5" fill="#131722" text-anchor="start" font-weight="normal" textLength="30.9" lengthAdjust="spacingAndGlyphs" stroke="#131722" stroke-width="0.25">2020.000</text>
<text x="672.8" y="167.19" font-family="Liberation Sans, sans-serif" font-size="8.5" fill="#131722" text-anchor="start" font-weight="normal" textLength="30.9" lengthAdjust="spacingAndGlyphs" stroke="#131722" stroke-width="0.25">2000.000</text>
<text x="672.8" y="198.81" font-family="Liberation Sans, sans-serif" font-size="8.5" fill="#131722" text-anchor="start" font-weight="normal" textLength="30.9" lengthAdjust="spacingAndGlyphs" stroke="#131722" stroke-width="0.25">1980.000</text>
<text x="672.8" y="230.43" font-family="Liberation Sans, sans-serif" font-size="8.5" fill="#131722" text-anchor="start" font-weight="normal" textLength="30.9" lengthAdjust="spacingAndGlyphs" stroke="#131722" stroke-width="0.25">1960.000</text>
<text x="672.8" y="262.04" font-family="Liberation Sans, sans-serif" font-size="8.5" fill="#131722" text-anchor="start" font-weight="normal" textLength="30.9" lengthAdjust="spacingAndGlyphs" stroke="#131722" stroke-width="0.25">1940.000</text>
<text x="672.8" y="293.66" font-family="Liberation Sans, sans-serif" font-size="8.5" fill="#131722" text-anchor="start" font-weight="normal" textLength="30.9" lengthAdjust="spacingAndGlyphs" stroke="#131722" stroke-width="0.25">1920.000</text>
<text x="672.8" y="325.28" font-family="Liberation Sans, sans-serif" font-size="8.5" fill="#131722" text-anchor="start" font-weight="normal" textLength="30.9" lengthAdjust="spacingAndGlyphs" stroke="#131722" stroke-width="0.25">1900.000</text>
<text x="672.8" y="356.90" font-family="Liberation Sans, sans-serif" font-size="8.5" fill="#131722" text-anchor="start" font-weight="normal" textLength="30.9" lengthAdjust="spacingAndGlyphs" stroke="#131722" stroke-width="0.25">1880.000</text>
<text x="672.8" y="388.52" font-family="Liberation Sans, sans-serif" font-size="8.5" fill="#131722" text-anchor="start" font-weight="normal" textLength="30.9" lengthAdjust="spacingAndGlyphs" stroke="#131722" stroke-width="0.25">1860.000</text>
<text x="672.8" y="420.13" font-family="Liberation Sans, sans-serif" font-size="8.5" fill="#131722" text-anchor="start" font-weight="normal" textLength="30.9" lengthAdjust="spacingAndGlyphs" stroke="#131722" stroke-width="0.25">1840.000</text>
<text x="672.8" y="451.75" font-family="Liberation Sans, sans-serif" font-size="8.5" fill="#131722" text-anchor="start" font-weight="normal" textLength="30.9" lengthAdjust="spacingAndGlyphs" stroke="#131722" stroke-width="0.25">1820.000</text>
<text x="672.8" y="483.37" font-family="Liberation Sans, sans-serif" font-size="8.5" fill="#131722" text-anchor="start" font-weight="normal" textLength="30.9" lengthAdjust="spacingAndGlyphs" stroke="#131722" stroke-width="0.25">1800.000</text>
<text x="672.8" y="514.99" font-family="Liberation Sans, sans-serif" font-size="8.5" fill="#131722" text-anchor="start" font-weight="normal" textLength="30.9" lengthAdjust="spacingAndGlyphs" stroke="#131722" stroke-width="0.25">1780.000</text>
<text x="672.8" y="546.61" font-family="Liberation Sans, sans-serif" font-size="8.5" fill="#131722" text-anchor="start" font-weight="normal" textLength="30.9" lengthAdjust="spacingAndGlyphs" stroke="#131722" stroke-width="0.25">1760.000</text>
<text x="672.8" y="577.72" font-family="Liberation Sans, sans-serif" font-size="8.5" fill="#131722" text-anchor="start" font-weight="normal" textLength="30.9" lengthAdjust="spacingAndGlyphs" stroke="#131722" stroke-width="0.25">1740.000</text>
<rect x="667.2" y="570" width="20.5" height="10.6" fill="#26A69A"/>
<text x="673" y="578.2" font-family="Liberation Sans, sans-serif" font-size="8.5" fill="#fff" text-anchor="start" font-weight="normal" textLength="11.5" lengthAdjust="spacingAndGlyphs" stroke="#fff" stroke-width="0.25">321</text>
<rect x="667.2" y="191.8" width="39.6" height="21" rx="1" fill="#0C977F"/>
<text x="673" y="200.6" font-family="Liberation Sans, sans-serif" font-size="8.5" fill="#fff" text-anchor="start" font-weight="normal" textLength="30.6" lengthAdjust="spacingAndGlyphs" stroke="#fff" stroke-width="0.25">1979.030</text>
<text x="673" y="210.0" font-family="Liberation Sans, sans-serif" font-size="8.5" fill="#fff" text-anchor="start" font-weight="normal" textLength="29" lengthAdjust="spacingAndGlyphs" fill-opacity="0.85" stroke="#fff" stroke-width="0.25">22:28:17</text>
<text x="-7.6" y="593.2" font-family="Liberation Sans, sans-serif" font-size="8.5" fill="#131722" text-anchor="start" font-weight="normal" textLength="13.2" lengthAdjust="spacingAndGlyphs" stroke="#131722" stroke-width="0.25">Dec</text>
<text x="156.7" y="593.2" font-family="Liberation Sans, sans-serif" font-size="8.5" fill="#131722" text-anchor="start" font-weight="normal" textLength="12.3" lengthAdjust="spacingAndGlyphs" stroke="#131722" stroke-width="0.25">Feb</text>
<text x="234.4" y="593.2" font-family="Liberation Sans, sans-serif" font-size="8.5" fill="#131722" text-anchor="start" font-weight="normal" textLength="12.6" lengthAdjust="spacingAndGlyphs" stroke="#131722" stroke-width="0.25">Mar</text>
<text x="324.4" y="593.2" font-family="Liberation Sans, sans-serif" font-size="8.5" fill="#131722" text-anchor="start" font-weight="normal" textLength="12.2" lengthAdjust="spacingAndGlyphs" stroke="#131722" stroke-width="0.25">Apr</text>
<text x="397.6" y="593.2" font-family="Liberation Sans, sans-serif" font-size="8.5" fill="#131722" text-anchor="start" font-weight="normal" textLength="13.5" lengthAdjust="spacingAndGlyphs" stroke="#131722" stroke-width="0.25">May</text>
<text x="488.0" y="593.2" font-family="Liberation Sans, sans-serif" font-size="8.5" fill="#131722" text-anchor="start" font-weight="normal" textLength="11.9" lengthAdjust="spacingAndGlyphs" stroke="#131722" stroke-width="0.25">Jun</text>
<text x="574.9" y="593.2" font-family="Liberation Sans, sans-serif" font-size="8.5" fill="#131722" text-anchor="start" font-weight="normal" textLength="9.6" lengthAdjust="spacingAndGlyphs" stroke="#131722" stroke-width="0.25">Jul</text>
<text x="655.5" y="593.2" font-family="Liberation Sans, sans-serif" font-size="8.5" fill="#131722" text-anchor="start" font-weight="normal" textLength="11.8" lengthAdjust="spacingAndGlyphs" stroke="#131722" stroke-width="0.25">Aug</text>
<text x="72.7" y="593.2" font-family="Liberation Sans, sans-serif" font-size="8.5" fill="#131722" text-anchor="start" font-weight="bold" textLength="17.4" lengthAdjust="spacingAndGlyphs" stroke="#131722" stroke-width="0.25">2023</text>
<polygon points="693.80,590.80 691.50,594.78 686.90,594.78 684.60,590.80 686.90,586.82 691.50,586.82" fill="none" stroke="#131722" stroke-width="0.9" stroke-linejoin="round"/>
<circle cx="689.2" cy="590.8" r="1.25" fill="none" stroke="#131722" stroke-width="0.9"/>
<circle cx="626.7" cy="555.0" r="7.4" fill="#fff"/>
<circle cx="626.7" cy="555.0" r="6.45" fill="#fff" stroke="#A030BE" stroke-width="1.1"/>
<path d="M628.70 551.40 L624.60 555.70 L628.80 554.30 L624.70 558.60" fill="none" stroke="#A030BE" stroke-width="1.15" stroke-linejoin="miter"/>
<circle cx="626.6" cy="571.6" r="7.5" fill="#fff"/>
<clipPath id="flag"><circle cx="626.6" cy="571.6" r="4.95"/></clipPath>
<g clip-path="url(#flag)">
<rect x="620.6" y="565.6" width="12" height="12" fill="#fff"/>
<rect x="620.6" y="570.0" width="12" height="2.0" fill="#EF4A5C"/>
<rect x="620.6" y="574.6" width="12" height="2.4" fill="#EF4A5C"/>
<rect x="620.6" y="565.6" width="7.4" height="6.4" fill="#4A86EE"/>
</g>
<circle cx="626.6" cy="571.6" r="6.5" fill="none" stroke="#EC4155" stroke-width="1.15"/>
<g fill="#fff" stroke="#fff" stroke-width="2.6" stroke-linejoin="round"><path d="M7.8 561.4 H15.7 V571.6 H11.7 V565.3 H7.8 Z"/><circle cx="18.4" cy="563.35" r="1.95"/><path d="M22.4 561.4 H27.1 L22.7 571.6 H18.0 Z"/><text x="32.9" y="571.6" font-family="Liberation Sans, sans-serif" font-size="14.0" textLength="76.8" lengthAdjust="spacingAndGlyphs">TradingView</text></g>
<g fill="#131722"><path d="M7.8 561.4 H15.7 V571.6 H11.7 V565.3 H7.8 Z"/><circle cx="18.4" cy="563.35" r="1.95"/><path d="M22.4 561.4 H27.1 L22.7 571.6 H18.0 Z"/></g>
<g fill="#131722" stroke="#131722" stroke-width="0.65" stroke-linejoin="round"><text x="32.9" y="571.6" font-family="Liberation Sans, sans-serif" font-size="14.0" textLength="76.8" lengthAdjust="spacingAndGlyphs">TradingView</text></g>
<circle cx="11.7" cy="10.75" r="5.9" fill="#DCA215"/>
<path d="M10.7 8.0 H12.7 L13.5 9.95 H9.9 Z M8.2 11.0 H10.6 L11.3 12.9 H7.4 Z M13.0 11.0 H15.3 L16.0 12.9 H12.2 Z" fill="#FFF7C8" stroke="#FFF7C8" stroke-width="0.5" stroke-linejoin="round"/>
<text x="20.4" y="14.6" font-family="Liberation Sans, sans-serif" font-size="10.2" fill="#131722" text-anchor="start" font-weight="normal" textLength="19.5" lengthAdjust="spacingAndGlyphs" stroke="#131722" stroke-width="0.4">Gold</text>
<text x="44.8" y="14.6" font-family="Liberation Sans, sans-serif" font-size="10.2" fill="#131722" text-anchor="start" font-weight="normal" textLength="19.3" lengthAdjust="spacingAndGlyphs" stroke="#131722" stroke-width="0.4">Spot</text>
<text x="76.8" y="14.6" font-family="Liberation Sans, sans-serif" font-size="10.2" fill="#131722" text-anchor="start" font-weight="normal" textLength="19.0" lengthAdjust="spacingAndGlyphs" stroke="#131722" stroke-width="0.4">U.S.</text>
<text x="99.9" y="14.6" font-family="Liberation Sans, sans-serif" font-size="10.2" fill="#131722" text-anchor="start" font-weight="normal" textLength="25.8" lengthAdjust="spacingAndGlyphs" stroke="#131722" stroke-width="0.4">Dollar</text>
<text x="135.6" y="14.6" font-family="Liberation Sans, sans-serif" font-size="10.2" fill="#131722" text-anchor="start" font-weight="normal" textLength="9.8" lengthAdjust="spacingAndGlyphs" stroke="#131722" stroke-width="0.4">1D</text>
<text x="154.6" y="14.6" font-family="Liberation Sans, sans-serif" font-size="10.2" fill="#131722" text-anchor="start" font-weight="normal" textLength="31.2" lengthAdjust="spacingAndGlyphs" stroke="#131722" stroke-width="0.4">OANDA</text>
<path d="M72.6 7.2 L69.6 15.6" stroke="#131722" stroke-width="0.95" fill="none"/>
<circle cx="130.1" cy="11.2" r="0.85" fill="#131722"/><circle cx="150.1" cy="11.2" r="0.85" fill="#131722"/>
<clipPath id="pill"><rect x="196.2" y="5.9" width="25.7" height="10.7" rx="5.35"/></clipPath>
<g clip-path="url(#pill)"><rect x="196" y="5" width="13.2" height="12" fill="#DDF1EC"/><rect x="209.2" y="5" width="13" height="12" fill="#FDE0EA"/></g>
<circle cx="203.0" cy="11.3" r="2.5" fill="#089981"/>
<path d="M212.5 10.2 q1.15 -1.3 2.3 0 t2.3 0 M212.5 12.7 q1.15 -1.3 2.3 0 t2.3 0" fill="none" stroke="#EC407A" stroke-width="1.15"/>
<text x="233.2" y="14.95" font-family="Liberation Sans, sans-serif" font-size="8.2" fill="#131722" text-anchor="start" font-weight="normal" textLength="5.6" lengthAdjust="spacingAndGlyphs" stroke="#131722" stroke-width="0.25">O</text>
<text x="239.4" y="14.95" font-family="Liberation Sans, sans-serif" font-size="8.2" fill="#0C977F" text-anchor="start" font-weight="normal" textLength="33.3" lengthAdjust="spacingAndGlyphs" stroke="#0C977F" stroke-width="0.12">1978.920</text>
<text x="277.5" y="14.95" font-family="Liberation Sans, sans-serif" font-size="8.2" fill="#131722" text-anchor="start" font-weight="normal" textLength="5.2" lengthAdjust="spacingAndGlyphs" stroke="#131722" stroke-width="0.25">H</text>
<text x="283.4" y="14.95" font-family="Liberation Sans, sans-serif" font-size="8.2" fill="#0C977F" text-anchor="start" font-weight="normal" textLength="33.8" lengthAdjust="spacingAndGlyphs" stroke="#0C977F" stroke-width="0.12">1979.230</text>
<text x="321.7" y="14.95" font-family="Liberation Sans, sans-serif" font-size="8.2" fill="#131722" text-anchor="start" font-weight="normal" textLength="3.9" lengthAdjust="spacingAndGlyphs" stroke="#131722" stroke-width="0.25">L</text>
<text x="326.3" y="14.95" font-family="Liberation Sans, sans-serif" font-size="8.2" fill="#0C977F" text-anchor="start" font-weight="normal" textLength="33.8" lengthAdjust="spacingAndGlyphs" stroke="#0C977F" stroke-width="0.12">1978.745</text>
<text x="364.6" y="14.95" font-family="Liberation Sans, sans-serif" font-size="8.2" fill="#131722" text-anchor="start" font-weight="normal" textLength="5.0" lengthAdjust="spacingAndGlyphs" stroke="#131722" stroke-width="0.25">C</text>
<text x="370.0" y="14.95" font-family="Liberation Sans, sans-serif" font-size="8.2" fill="#0C977F" text-anchor="start" font-weight="normal" textLength="33.4" lengthAdjust="spacingAndGlyphs" stroke="#0C977F" stroke-width="0.12">1979.030</text>
<text x="408.3" y="14.95" font-family="Liberation Sans, sans-serif" font-size="8.2" fill="#0C977F" text-anchor="start" font-weight="normal" textLength="23.2" lengthAdjust="spacingAndGlyphs" stroke="#0C977F" stroke-width="0.12">+0.110</text>
<text x="436.0" y="14.95" font-family="Liberation Sans, sans-serif" font-size="8.2" fill="#0C977F" text-anchor="start" font-weight="normal" textLength="31.6" lengthAdjust="spacingAndGlyphs" stroke="#0C977F" stroke-width="0.12">(+0.01%)</text>
<rect x="5.8" y="22.6" width="42.1" height="15.3" rx="2.4" fill="#fff" stroke="#F0737F" stroke-width="0.9"/>
<text x="11.2" y="33.5" font-family="Liberation Sans, sans-serif" font-size="8.5" fill="#EE4257" text-anchor="start" font-weight="normal" textLength="28.1" lengthAdjust="spacingAndGlyphs" stroke="#EE4257" stroke-width="0.25">1978.83</text>
<text x="39.8" y="31.8" font-family="Liberation Sans, sans-serif" font-size="6.4" fill="#EE4257" text-anchor="start" font-weight="normal" textLength="3.5" lengthAdjust="spacingAndGlyphs" stroke="#EE4257" stroke-width="0.25">0</text>
<text x="54.2" y="32.8" font-family="Liberation Sans, sans-serif" font-size="7.2" fill="#131722" text-anchor="start" font-weight="normal" textLength="13.6" lengthAdjust="spacingAndGlyphs" stroke="#131722" stroke-width="0.25">40.0</text>
<rect x="73.6" y="22.6" width="42.7" height="15.3" rx="2.4" fill="#fff" stroke="#6D8FF5" stroke-width="0.9"/>
<text x="79.3" y="33.5" font-family="Liberation Sans, sans-serif" font-size="8.5" fill="#3366F0" text-anchor="start" font-weight="normal" textLength="28.0" lengthAdjust="spacingAndGlyphs" stroke="#3366F0" stroke-width="0.25">1979.23</text>
<text x="107.9" y="31.8" font-family="Liberation Sans, sans-serif" font-size="6.4" fill="#3366F0" text-anchor="start" font-weight="normal" textLength="3.5" lengthAdjust="spacingAndGlyphs" stroke="#3366F0" stroke-width="0.25">0</text>
<text x="6.4" y="52.5" font-family="Liberation Sans, sans-serif" font-size="8.3" fill="#131722" text-anchor="start" font-weight="normal" textLength="10.7" lengthAdjust="spacingAndGlyphs" stroke="#131722" stroke-width="0.25">Vol</text>
<text x="23.0" y="52.5" font-family="Liberation Sans, sans-serif" font-size="8.4" fill="#26A69A" text-anchor="start" font-weight="normal" textLength="11.9" lengthAdjust="spacingAndGlyphs" stroke="#26A69A" stroke-width="0.25">321</text>
<rect x="6.6" y="59.4" width="17.8" height="13.2" rx="2" fill="#fff" stroke="#E0E3EB" stroke-width="0.8"/>
<path d="M13.2 67.2 L15.4 65.0 L17.6 67.2" fill="none" stroke="#131722" stroke-width="1.3" stroke-linecap="round" stroke-linejoin="round"/>
</svg>
</body></html>
